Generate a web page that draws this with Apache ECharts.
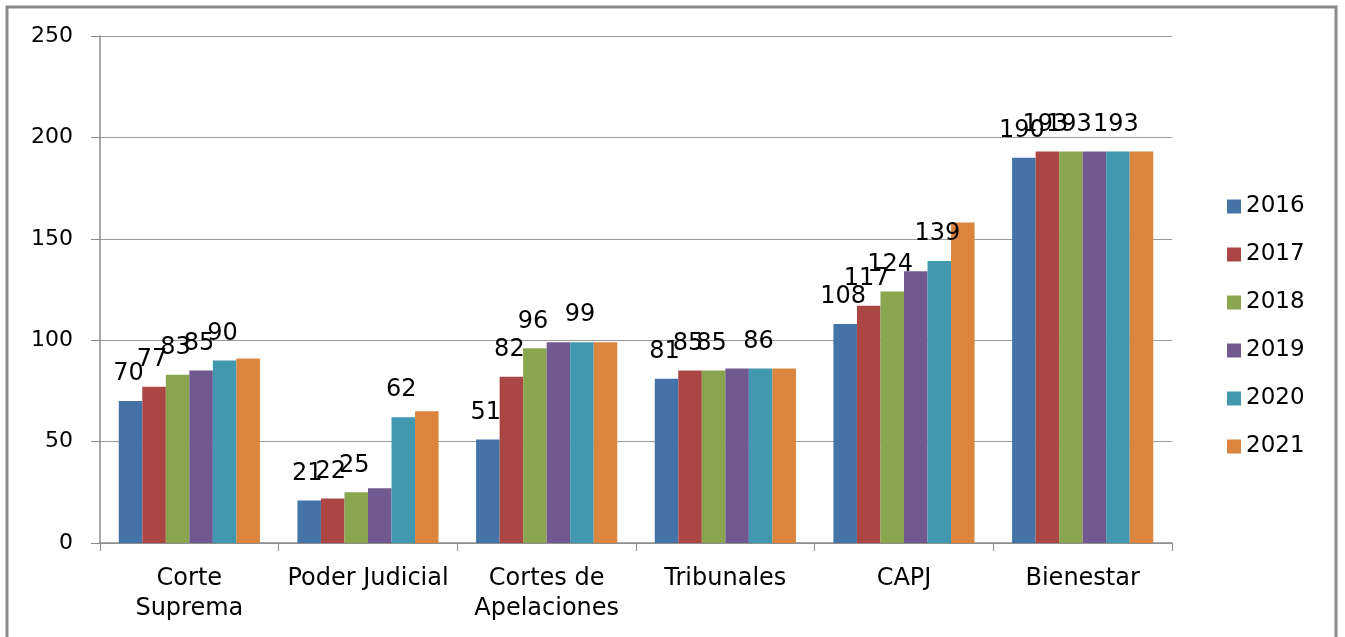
<!DOCTYPE html>
<html>
<head>
<meta charset="utf-8">
<script src="https://cdn.jsdelivr.net/npm/echarts@6/dist/echarts.min.js"></script>
<style>
  html, body { margin: 0; padding: 0; background: #fff; }
  #chartArea { width: 1345px; height: 637px; }
</style>
</head>
<body>
<div id="chartArea"></div>
<script>
// categorias del eje x
const categories = ['Corte\nSuprema', 'Poder Judicial', 'Cortes de\nApelaciones', 'Tribunales', 'CAPJ', 'Bienestar'];
const years = ['2016', '2017', '2018', '2019', '2020', '2021'];

// valores por año
const v2016 = [70, 21, 51, 81, 108, 190];
const v2017 = [77, 22, 82, 85, 117, 193];
const v2018 = [83, 25, 96, 85, 124, 193];
const v2019 = [85, 27, 99, 86, 134, 193];
const v2020 = [90, 62, 99, 86, 139, 193];
const v2021 = [91, 65, 99, 86, 158, 193];

const yTicks = [0, 50, 100, 150, 200, 250];

// etiquetas que no aparecen en el original: [serie, categoria]
const hiddenLabels = [[3, 1], [3, 2], [3, 3], [3, 4], [3, 5]];
// la serie 2021 no lleva etiquetas
const seriesWithLabels = [true, true, true, true, true, false];

const colors = ['#4572A7', '#AA4643', '#89A54E', '#71588F', '#4198AF', '#DB843D'];
const allValues = [v2016, v2017, v2018, v2019, v2020, v2021];

function buildSeries() {
  return allValues.map((vals, si) => {
    let data = vals.map((v, ci) => {
      let hidden = hiddenLabels.some(p => p[0] === si && p[1] === ci);
      return hidden ? { value: v, label: { show: false } } : v;
    });
    return {
      name: years[si],
      type: 'bar',
      barGap: '0%',
      barCategoryGap: '21%',
      data: data,
      itemStyle: { color: colors[si] },
      label: {
        show: seriesWithLabels[si],
        position: 'top',
        distance: 15,
        offset: [-2, 0],
        color: '#000',
        fontSize: 24,
        fontFamily: 'DejaVu Sans'
      }
    };
  });
}

let myChart = echarts.init(document.getElementById('chartArea'));
let option = {
  backgroundColor: '#fff',
  animation: false,
  graphic: [{
    type: 'rect',
    shape: { x: 7, y: 7, width: 1329, height: 700 },
    style: { fill: 'none', stroke: '#8a8a8a', lineWidth: 3 },
    silent: true
  }],
  grid: { left: 100, right: 173, top: 36, bottom: 94, containLabel: false },
  legend: {
    orient: 'vertical',
    left: 1222,
    top: 190,
    itemWidth: 14,
    itemHeight: 14,
    itemGap: 25,
    icon: 'rect',
    data: years,
    textStyle: { fontSize: 23, color: '#000', fontFamily: 'DejaVu Sans' }
  },
  xAxis: {
    type: 'category',
    data: categories,
    axisLine: { lineStyle: { color: '#8a8a8a', width: 1.5 } },
    axisTick: { show: true, length: 8, lineStyle: { color: '#8a8a8a' } },
    axisLabel: {
      color: '#000',
      fontSize: 24,
      fontFamily: 'DejaVu Sans',
      margin: 21,
      lineHeight: 30,
      interval: 0
    }
  },
  yAxis: {
    type: 'value',
    min: yTicks[0],
    max: yTicks[yTicks.length - 1],
    interval: 50,
    axisLine: { show: true, lineStyle: { color: '#8a8a8a', width: 1.5 } },
    axisTick: { show: true, length: 9, lineStyle: { color: '#8a8a8a' } },
    splitLine: { lineStyle: { color: '#9a9a9a', width: 1.2 } },
    axisLabel: {
      color: '#000',
      fontSize: 22,
      fontFamily: 'DejaVu Sans',
      margin: 27
    }
  },
  series: buildSeries()
};
option && myChart.setOption(option);
</script>
</body>
</html>
